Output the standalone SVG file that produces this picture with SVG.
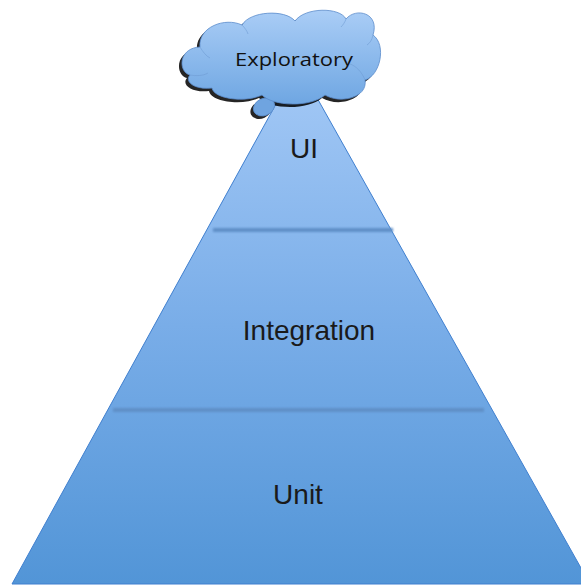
<svg xmlns="http://www.w3.org/2000/svg" width="581" height="585" viewBox="0 0 581 585">
  <defs>
    <linearGradient id="pyrFill" x1="0" y1="68" x2="0" y2="584" gradientUnits="userSpaceOnUse">
      <stop offset="0" stop-color="#a4c9f6"/>
      <stop offset="0.5" stop-color="#79ade8"/>
      <stop offset="1" stop-color="#5295d7"/>
    </linearGradient>
    <linearGradient id="cloudFill" x1="0" y1="10" x2="0" y2="105" gradientUnits="userSpaceOnUse">
      <stop offset="0" stop-color="#aacdf6"/>
      <stop offset="1" stop-color="#6ea6e2"/>
    </linearGradient>
    <filter id="soft" filterUnits="userSpaceOnUse" x="0" y="0" width="581" height="585">
      <feGaussianBlur stdDeviation="0.8"/>
    </filter>
    <filter id="shadow" x="-10%" y="-20%" width="120%" height="140%">
      <feGaussianBlur stdDeviation="0.7"/>
    </filter>
  </defs>
  <style>
    .label { font-family: "Liberation Sans", Arial, sans-serif; font-size: 28px; fill: #1a1a1a; text-anchor: middle; }
    .cloudText { font-family: "Open Sans", "Liberation Sans", sans-serif; font-size: 19px; fill: #111; text-anchor: middle; }
    .divider { fill: #5f8fc7; }
  </style>

  <!-- pyramid body -->
  <g id="pyramid">
    <polygon points="298,64 590,584 12,584" fill="url(#pyrFill)" stroke="#3f7fcf" stroke-width="1"/>
  </g>

  <!-- layer dividers -->
  <g id="connectors" filter="url(#soft)">
    <rect class="divider" x="213" y="228" width="180" height="4"/>
    <rect class="divider" x="113" y="408" width="371" height="4"/>
  </g>

  <g id="ui">
    <text class="label" x="304" y="158">UI</text>
  </g>
  <g id="integration">
    <text class="label" x="309" y="340">Integration</text>
  </g>
  <g id="unit">
    <text class="label" x="298" y="504">Unit</text>
  </g>

  <!-- thought cloud on top -->
  <g id="exploratory">
    <g transform="translate(-3,3)" filter="url(#shadow)" fill="#000" opacity="0.85">
      <path d="M190,75 C178,72 178,48 200,47 C198,27 225,17 242,25 C250,11 285,9 295,21 C305,7 340,7 346,19 C356,7 380,13 373,35 C387,45 380,76 365,80 C368,98 340,104 325,95 C310,108 272,106 262,95 C245,103 214,99 212,88 C195,90 184,82 190,75 Z"/>
      <ellipse cx="264" cy="107" rx="11" ry="8.5" transform="rotate(-25 264 107)"/>
    </g>
    <ellipse cx="264" cy="107" rx="11" ry="8.5" transform="rotate(-25 264 107)" fill="#6fa4e0" stroke="#5a8ccc" stroke-width="0.8"/>
    <path d="M190,75 C178,72 178,48 200,47 C198,27 225,17 242,25 C250,11 285,9 295,21 C305,7 340,7 346,19 C356,7 380,13 373,35 C387,45 380,76 365,80 C368,98 340,104 325,95 C310,108 272,106 262,95 C245,103 214,99 212,88 C195,90 184,82 190,75 Z" fill="url(#cloudFill)" stroke="#5a8ccc" stroke-width="0.8"/>
    <g fill="none" stroke="#6f9bd3" stroke-width="0.7" opacity="0.8">
      <path d="M200,47 C203,52 206,56 210,58"/>
      <path d="M242,25 C245,28 247,31 248,34"/>
      <path d="M346,19 C345,22 343,25 341,27"/>
      <path d="M373,35 C372,40 370,43 367,45"/>
      <path d="M365,80 C362,72 356,66 350,64"/>
      <path d="M190,75 C196,76 203,76 208,73"/>
    </g>
    <text class="cloudText" x="294" y="66" textLength="118" lengthAdjust="spacingAndGlyphs">Exploratory</text>
  </g>
</svg>
